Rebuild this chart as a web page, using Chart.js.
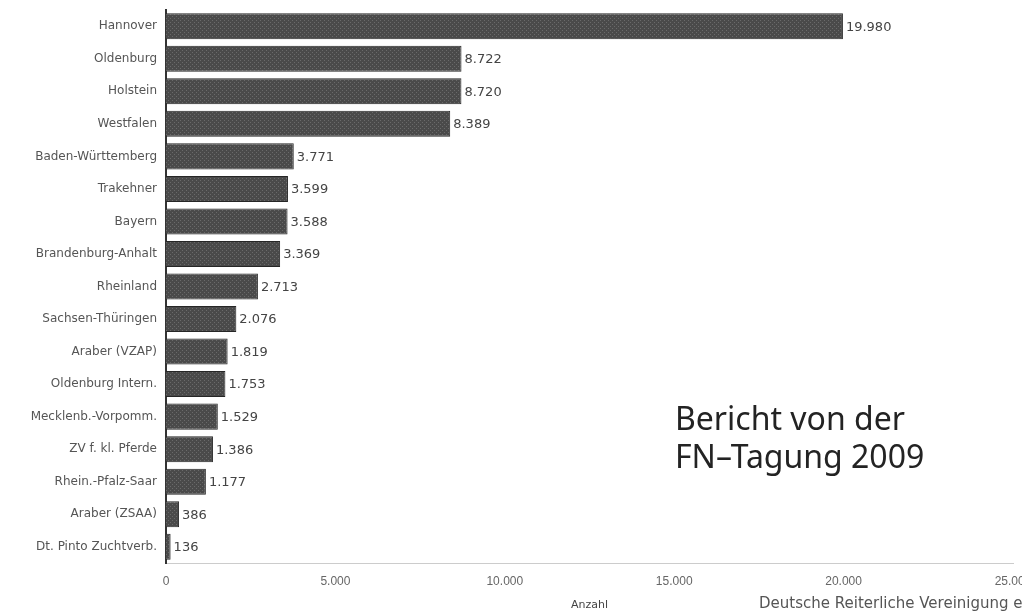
<!DOCTYPE html>
<html>
<head>
<meta charset="utf-8">
<script src="https://cdn.jsdelivr.net/npm/chart.js@4/dist/chart.umd.min.js"></script>
<style>
  html, body { margin: 0; padding: 0; background: #fff; }
  #wrap { position: relative; width: 1022px; height: 616px; overflow: hidden; }
  #note { position: absolute; left: 675px; top: 399px; font-family: "Noto Sans", sans-serif;
          font-size: 32px; line-height: 38px; color: #232323; white-space: nowrap; }
  #source { position: absolute; left: 759px; top: 594px; font-family: "DejaVu Sans", sans-serif;
            font-size: 15px; color: #555; white-space: nowrap; }
</style>
</head>
<body>
<div id="wrap">
  <canvas id="chart" width="1022" height="616"></canvas>
  <div id="note">Bericht von der<br>FN–Tagung 2009</div>
  <div id="source">Deutsche Reiterliche Vereinigung e.V.</div>
</div>
<script>
// Verbände (Zuchtverbände) und Anzahl
const categories = [
    'Hannover', 'Oldenburg', 'Holstein', 'Westfalen', 'Baden-Württemberg',
    'Trakehner', 'Bayern', 'Brandenburg-Anhalt', 'Rheinland', 'Sachsen-Thüringen',
    'Araber (VZAP)', 'Oldenburg Intern.', 'Mecklenb.-Vorpomm.', 'ZV f. kl. Pferde',
    'Rhein.-Pfalz-Saar', 'Araber (ZSAA)', 'Dt. Pinto Zuchtverb.'
];
const counts = [19980, 8722, 8720, 8389, 3771, 3599, 3588, 3369, 2713, 2076, 1819, 1753, 1529, 1386, 1177, 386, 136];
const xTicks = [0, 5000, 10000, 15000, 20000, 25000];

const fmt = v => v.toLocaleString('de-DE');

// dotted raster like the printed bars
function barPattern() {
    const c = document.createElement('canvas');
    c.width = 4; c.height = 4;
    const g = c.getContext('2d');
    g.fillStyle = '#4a4a4a';
    g.fillRect(0, 0, 4, 4);
    g.fillStyle = '#6a6a6a';
    g.fillRect(0, 0, 1, 1);
    g.fillRect(2, 2, 1, 1);
    return g.createPattern(c, 'repeat');
}

const valueLabels = {
    id: 'valueLabels',
    afterDatasetsDraw(chart) {
        const ctx = chart.ctx;
        const meta = chart.getDatasetMeta(0);
        ctx.save();
        ctx.font = '13px "DejaVu Sans", sans-serif';
        ctx.fillStyle = '#444';
        ctx.textBaseline = 'middle';
        meta.data.forEach((bar, i) => {
            ctx.fillText(fmt(counts[i]), bar.x + 3, bar.y + 1);
        });
        ctx.restore();
    }
};

new Chart(document.getElementById('chart'), {
    type: 'bar',
    data: {
        labels: categories,
        datasets: [{
            data: counts,
            backgroundColor: barPattern(),
            borderColor: '#262626',
            borderWidth: 1,
            barPercentage: 0.8,
            categoryPercentage: 1
        }]
    },
    options: {
        indexAxis: 'y',
        responsive: false,
        animation: false,
        layout: { padding: { top: 10, right: 9, left: 0, bottom: 0 } },
        plugins: { legend: { display: false }, tooltip: { enabled: false } },
        scales: {
            x: {
                min: 0, max: 25000,
                afterBuildTicks: s => { s.ticks = xTicks.map(v => ({ value: v })); },
                afterFit: s => { s.height = 53; s.paddingLeft = 0; s.paddingRight = 0; },
                grid: { display: false, drawTicks: true, tickLength: 4 },
                border: { color: '#ccc' },
                ticks: {
                    color: '#666', padding: 7, maxRotation: 0,
                    font: { family: '"Liberation Sans", Arial, sans-serif', size: 12 },
                    callback: v => fmt(v)
                },
                title: {
                    display: true, text: 'Anzahl', color: '#444', padding: { top: 2 },
                    font: { family: '"DejaVu Sans", sans-serif', size: 11 }
                }
            },
            y: {
                afterFit: s => { s.width = 166; s.paddingTop = 0; s.paddingBottom = 0; },
                grid: { display: false },
                border: { color: '#333', width: 2 },
                ticks: {
                    color: '#555', padding: 1,
                    font: { family: '"DejaVu Sans", sans-serif', size: 12 }
                }
            }
        }
    },
    plugins: [valueLabels]
});
</script>
</body>
</html>
